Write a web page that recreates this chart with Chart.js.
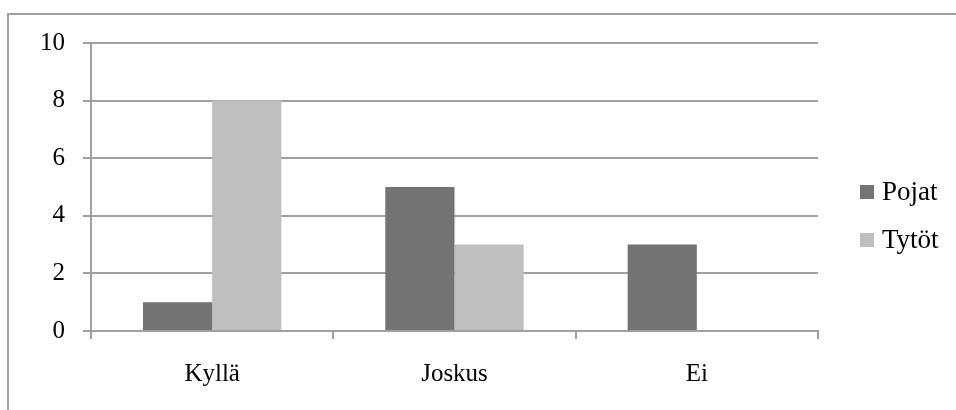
<!DOCTYPE html>
<html>
<head>
<meta charset="utf-8">
<script src="https://cdn.jsdelivr.net/npm/chart.js@4/dist/chart.umd.min.js"></script>
<style>
  html, body { margin: 0; padding: 0; background: #fff; overflow: hidden; }
  #wrap { position: relative; width: 956px; height: 410px; }
  #frame { position: absolute; left: 7px; top: 13px; width: 1000px; height: 500px;
           border: 2px solid #a0a0a0; box-sizing: border-box; }
  canvas { position: absolute; left: 0; top: 0; }
</style>
</head>
<body>
<div id="wrap">
  <div id="frame"></div>
  <canvas id="chart" width="956" height="410"></canvas>
</div>
<script>
const categories = ['Kyllä', 'Joskus', 'Ei'];
const pojat = [1, 5, 3];
const tytot = [8, 3, 0];
const seriesNames = ['Pojat', 'Tytöt'];

const DARK_COLOR = '#737373';
const LIGHT_COLOR = '#bfbfbf';
const GRID_COLOR = '#a0a0a0';
const FONT = '"Liberation Serif", "DejaVu Serif", serif';

// legend drawn by hand so it sits where the reference has it
const sideLegend = {
  id: 'sideLegend',
  afterDraw(chart) {
    const ctx = chart.ctx;
    ctx.save();
    ctx.font = '27px ' + FONT;
    ctx.textBaseline = 'middle';
    chart.data.datasets.forEach((ds, i) => {
      const y = 192 + i * 48;
      ctx.fillStyle = ds.backgroundColor;
      ctx.fillRect(860, y - 7, 14, 14);
      ctx.fillStyle = '#000';
      ctx.fillText(ds.label, 882, y + 1);
    });
    ctx.restore();
  }
};

new Chart(document.getElementById('chart'), {
  type: 'bar',
  data: {
    labels: categories,
    datasets: [
      { label: seriesNames[0], data: pojat, backgroundColor: DARK_COLOR },
      { label: seriesNames[1], data: tytot, backgroundColor: LIGHT_COLOR }
    ]
  },
  options: {
    responsive: false,
    animation: false,
    devicePixelRatio: 1,
    layout: { padding: { left: 0, right: 138, top: 43, bottom: 0 } },
    datasets: { bar: { barPercentage: 1, categoryPercentage: 0.571 } },
    plugins: { legend: { display: false }, tooltip: { enabled: false } },
    scales: {
      x: {
        afterFit(scale) { scale.height = 79; },
        grid: { drawOnChartArea: false, color: GRID_COLOR, lineWidth: 2, tickLength: 8, offset: true },
        border: { color: GRID_COLOR, width: 2 },
        ticks: { color: '#000', font: { family: FONT, size: 25 }, padding: 20 }
      },
      y: {
        min: 0, max: 10,
        afterFit(scale) { scale.width = 91; },
        grid: { color: GRID_COLOR, lineWidth: 2, tickLength: 8 },
        border: { color: GRID_COLOR, width: 2 },
        ticks: { stepSize: 2, color: '#000', font: { family: FONT, size: 25 }, padding: 18 }
      }
    }
  },
  plugins: [sideLegend]
});
</script>
</body>
</html>
